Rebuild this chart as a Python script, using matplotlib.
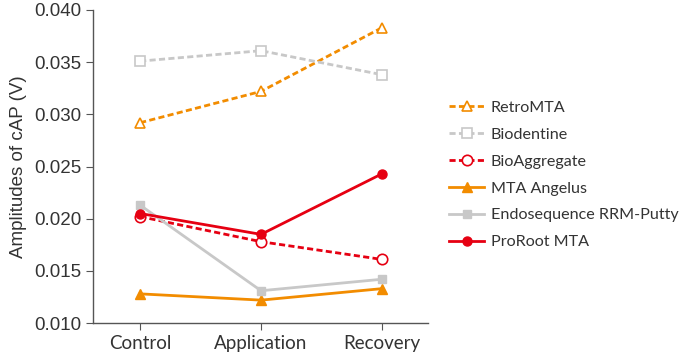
import matplotlib.pyplot as plt

phases = ['Control', 'Application', 'Recovery']

retro_mta = [0.0292, 0.0322, 0.0383]
biodentine = [0.0351, 0.0361, 0.0338]
bioaggregate = [0.0202, 0.0178, 0.0161]
mta_angelus = [0.0128, 0.0122, 0.0133]
endosequence = [0.0213, 0.0131, 0.0142]
proroot_mta = [0.0205, 0.0185, 0.0243]

orange = '#F28C00'
grey = '#C8C8C8'
red = '#E60012'

plt.rcParams['font.family'] = ['Lato', 'DejaVu Sans']

fig = plt.figure(figsize=(6.86, 3.57), dpi=100)
ax = fig.add_axes([0.1356, 0.095, 0.488, 0.877])

x = range(len(phases))
dash = (0, (2.2, 1.2))
ax.plot(x, retro_mta, color=orange, ls=dash, lw=2, marker='^',
        ms=7.5, mfc='white', mec=orange, mew=1.2, label='RetroMTA')
ax.plot(x, biodentine, color=grey, ls=dash, lw=2, marker='s',
        ms=6.5, mfc='white', mec=grey, mew=1.2, label='Biodentine')
ax.plot(x, bioaggregate, color=red, ls=dash, lw=2, marker='o',
        ms=7.5, mfc='white', mec=red, mew=1.2, label='BioAggregate')
ax.plot(x, mta_angelus, color=orange, lw=2, marker='^', ms=6.5,
        label='MTA Angelus')
ax.plot(x, endosequence, color=grey, lw=2, marker='s', ms=6,
        label='Endosequence RRM-Putty')
ax.plot(x, proroot_mta, color=red, lw=2, marker='o', ms=6.5,
        label='ProRoot MTA')

ax.set_xlim(-0.39, 2.38)
ax.set_ylim(0.010, 0.040)
ax.set_xticks(list(x))
ax.set_xticklabels(phases, fontsize=13.5)
yt = [0.010, 0.015, 0.020, 0.025, 0.030, 0.035, 0.040]
ax.set_yticks(yt)
ax.set_yticklabels(['%.3f' % v for v in yt], family='Liberation Sans', fontsize=13.5)
ax.set_ylabel('Amplitudes of cAP (V)', fontsize=13.5, color='#333333',
              family='Liberation Sans', labelpad=5)

for s in ['top', 'right']:
    ax.spines[s].set_visible(False)
for s in ['left', 'bottom']:
    ax.spines[s].set_color('#555555')
    ax.spines[s].set_linewidth(1.0)
ax.tick_params(colors='#555555', labelcolor='#333333', length=5)

ax.legend(loc='center left', bbox_to_anchor=(1.02, 0.473), frameon=False,
          prop={'family': 'Lato', 'size': 11.6}, handlelength=2.2, handletextpad=0.4,
          labelspacing=0.78, labelcolor='#333333', markerscale=1.0)

fig.savefig('out.png', dpi=100)
